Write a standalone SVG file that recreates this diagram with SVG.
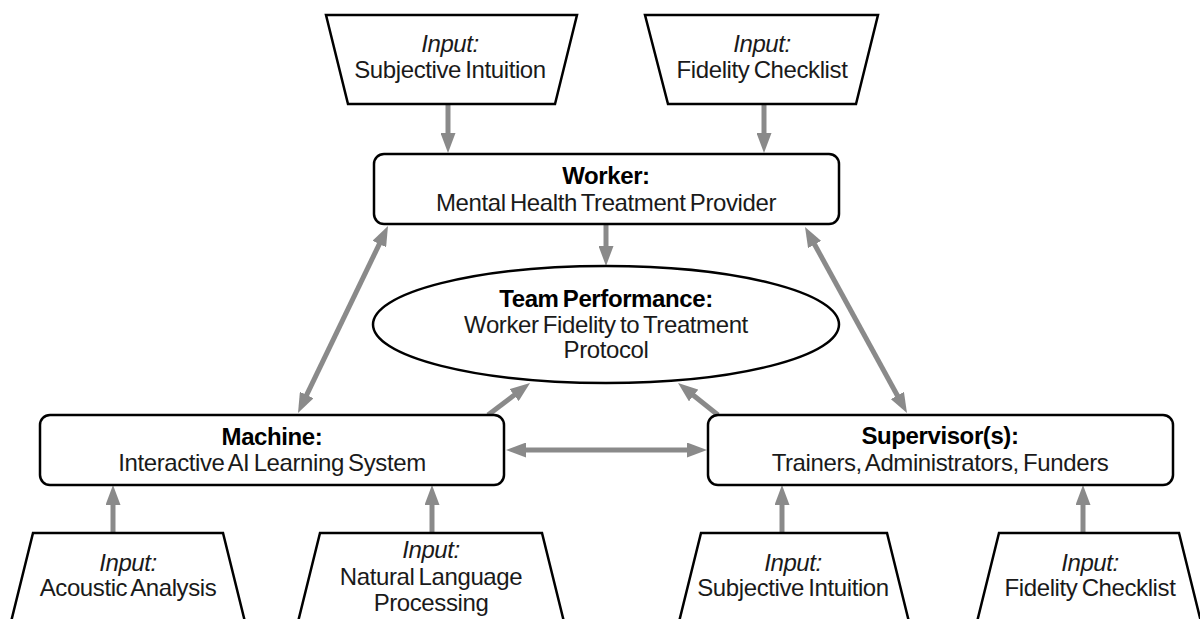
<svg xmlns="http://www.w3.org/2000/svg" width="1200" height="619" viewBox="0 0 1200 619">
  <defs>
    <style>
      .shape { fill: #ffffff; stroke: #000000; stroke-width: 2.5; stroke-linejoin: miter; }
      .label { font-family: "Liberation Sans", Arial, sans-serif; font-size: 24px; letter-spacing: -0.4px; word-spacing: -2px; fill: #1a1a1a; text-anchor: middle; }
      .title { font-weight: bold; fill: #000000; }
      .input { font-style: italic; }
      .link { fill: none; stroke: #8a8a8a; stroke-width: 5; }
      .one { marker-end: url(#head); }
      .two { marker-start: url(#head); marker-end: url(#head); }
    </style>
    <marker id="head" viewBox="0 0 20 15" markerWidth="20" markerHeight="15" refX="8" refY="7.5" markerUnits="userSpaceOnUse" orient="auto-start-reverse">
      <path d="M0,0 L20,7.5 L0,15 z" fill="#8a8a8a"/>
    </marker>
  </defs>

  <rect width="1200" height="619" fill="#ffffff"/>

  <!-- connectors -->
  <g id="connectors">
    <line class="link one" x1="448" y1="104" x2="448" y2="141"/>
    <line class="link one" x1="764" y1="104" x2="764" y2="141"/>
    <line class="link one" x1="606" y1="224" x2="606" y2="254"/>
    <line class="link two" x1="382.8" y1="236.8" x2="303.2" y2="402.2"/>
    <line class="link two" x1="810.8" y1="237.5" x2="901.2" y2="402.5"/>
    <line class="link one" x1="488" y1="415" x2="520.5" y2="390.3"/>
    <line class="link one" x1="718" y1="415" x2="687.4" y2="390.5"/>
    <line class="link two" x1="518" y1="450" x2="695" y2="450"/>
    <line class="link one" x1="113" y1="533" x2="113" y2="497"/>
    <line class="link one" x1="432" y1="533" x2="432" y2="497"/>
    <line class="link one" x1="782" y1="533" x2="782" y2="497"/>
    <line class="link one" x1="1083" y1="533" x2="1083" y2="497"/>
  </g>

  <!-- inputs feeding the worker -->
  <g id="input-worker-intuition">
    <polygon class="shape" points="326,15 577,15 555,104 348,104"/>
    <text class="label input" x="450" y="52">Input:</text>
    <text class="label" x="450" y="78">Subjective Intuition</text>
  </g>
  <g id="input-worker-checklist">
    <polygon class="shape" points="645,15 878,15 856,104 668,104"/>
    <text class="label input" x="762" y="52">Input:</text>
    <text class="label" x="762" y="78">Fidelity Checklist</text>
  </g>

  <!-- worker -->
  <g id="worker">
    <rect class="shape" x="374" y="154" width="465" height="70" rx="10"/>
    <text class="label title" x="606" y="184">Worker:</text>
    <text class="label" x="606" y="211">Mental Health Treatment Provider</text>
  </g>

  <!-- team performance -->
  <g id="team-performance">
    <ellipse class="shape" cx="606" cy="324.5" rx="233" ry="58.5"/>
    <text class="label title" x="606" y="307">Team Performance:</text>
    <text class="label" x="606" y="333">Worker Fidelity to Treatment</text>
    <text class="label" x="606" y="358">Protocol</text>
  </g>

  <!-- machine -->
  <g id="machine">
    <rect class="shape" x="40" y="415" width="464" height="70" rx="10"/>
    <text class="label title" x="272" y="445">Machine:</text>
    <text class="label" x="272" y="471">Interactive AI Learning System</text>
  </g>

  <!-- supervisors -->
  <g id="supervisors">
    <rect class="shape" x="708" y="415" width="465" height="70" rx="10"/>
    <text class="label title" x="940" y="444">Supervisor(s):</text>
    <text class="label" x="940" y="471">Trainers, Administrators, Funders</text>
  </g>

  <!-- inputs feeding the machine -->
  <g id="input-machine-acoustic">
    <polygon class="shape" points="33,533 223,533 247,630 9,630"/>
    <text class="label input" x="128" y="571">Input:</text>
    <text class="label" x="128" y="596">Acoustic Analysis</text>
  </g>
  <g id="input-machine-nlp">
    <polygon class="shape" points="320,533 542,533 566,630 296,630"/>
    <text class="label input" x="431" y="558">Input:</text>
    <text class="label" x="431" y="585">Natural Language</text>
    <text class="label" x="431" y="611">Processing</text>
  </g>

  <!-- inputs feeding the supervisors -->
  <g id="input-supervisor-intuition">
    <polygon class="shape" points="701,533 887,533 911,630 677,630"/>
    <text class="label input" x="793" y="571">Input:</text>
    <text class="label" x="793" y="596">Subjective Intuition</text>
  </g>
  <g id="input-supervisor-checklist">
    <polygon class="shape" points="999,533 1179,533 1203,630 975,630"/>
    <text class="label input" x="1090" y="571">Input:</text>
    <text class="label" x="1090" y="596">Fidelity Checklist</text>
  </g>
</svg>
